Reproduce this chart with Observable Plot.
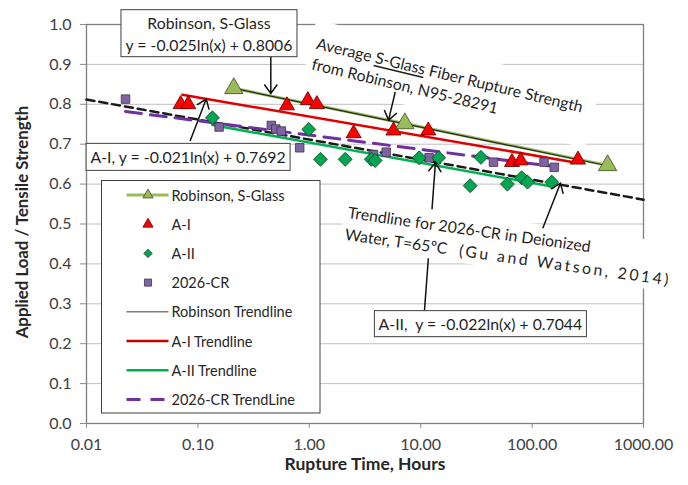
<!DOCTYPE html>
<html><head><meta charset="utf-8">
<script src="https://cdn.jsdelivr.net/npm/d3@7"></script>
<script src="https://cdn.jsdelivr.net/npm/@observablehq/plot@0.6"></script>
<style>
body{margin:0;background:#fff;font-family:Lato,sans-serif;}
svg{display:block;}
</style></head><body><div id="chart"></div>
<script>
// ---------- data ----------
const xTicks = [0.01, 0.1, 1, 10, 100, 1000];
const xTickLabels = ["0.01", "0.10", "1.00", "10.00", "100.00", "1000.00"];
const yTicks = [0, 0.1, 0.2, 0.3, 0.4, 0.5, 0.6, 0.7, 0.8, 0.9, 1.0];
const yTickLabels = ["0.0", "0.1", "0.2", "0.3", "0.4", "0.5", "0.6", "0.7", "0.8", "0.9", "1.0"];

const robinsonX = [0.21, 7.2, 476];
const robinsonY = [0.84, 0.752, 0.647];
const aIX = [0.07, 0.082, 0.63, 0.97, 1.17, 2.5, 5.7, 11.7, 66, 79, 258];
const aIY = [0.80, 0.80, 0.797, 0.81, 0.80, 0.727, 0.734, 0.734, 0.655, 0.659, 0.661];
const aIIX = [0.135, 0.99, 1.26, 2.1, 3.6, 3.9, 9.7, 14.5, 27.8, 34.7, 60, 80.5, 91, 150];
const aIIY = [0.766, 0.737, 0.662, 0.662, 0.662, 0.659, 0.666, 0.666, 0.596, 0.667, 0.60, 0.616, 0.605, 0.605];
const crX = [0.0224, 0.155, 0.456, 0.50, 0.56, 0.82, 3.77, 4.9, 11.9, 45, 128, 158];
const crY = [0.813, 0.743, 0.747, 0.738, 0.733, 0.691, 0.674, 0.680, 0.666, 0.655, 0.655, 0.642];

// trendline end points (straight lines on the log axis)
const robinsonTrendX = [0.21, 476];
const robinsonTrendY = [0.840, 0.646];
const aITrendX = [0.0725, 258];
const aITrendY = [0.824, 0.653];
const aIITrendX = [0.135, 150];
const aIITrendY = [0.748, 0.594];
const crTrendX = [0.0224, 158];
const crTrendY = [0.782, 0.644];
const guTrendX = [0.01, 1000];
const guTrendY = [0.812, 0.561];

const legendLabels = ["Robinson, S-Glass", "A-I", "A-II", "2026-CR", "Robinson Trendline", "A-I Trendline", "A-II Trendline", "2026-CR TrendLine"];

// ---------- build tables ----------
const zip = (xs, ys) => xs.map((x, i) => ({x, y: ys[i]}));
const robinson = zip(robinsonX, robinsonY);
const aI = zip(aIX, aIY);
const aII = zip(aIIX, aIIY);
const cr = zip(crX, crY);
const robinsonTrend = zip(robinsonTrendX, robinsonTrendY);
const aITrend = zip(aITrendX, aITrendY);
const aIITrend = zip(aIITrendX, aIITrendY);
const crTrend = zip(crTrendX, crTrendY);
const guTrend = zip(guTrendX, guTrendY);

const fx = d => xTickLabels[xTicks.findIndex(t => Math.abs(Math.log10(t) - Math.log10(d)) < 1e-6)];
const fy = d => yTickLabels[yTicks.findIndex(t => Math.abs(t - d) < 1e-6)];

const C = {
  olive: "#9bbb59", red: "#ff0000", redLine: "#e00000", green: "#00a651", greenLine: "#00b050",
  purple: "#8064a2", purpleLine: "#7030a0"
};

const chart = Plot.plot({
  width: 688, height: 485,
  marginLeft: 86, marginRight: 45, marginTop: 24, marginBottom: 62,
  style: {fontFamily: "Lato, sans-serif", background: "white", overflow: "visible"},
  x: {type: "log", domain: [0.01, 1000]},
  y: {domain: [0, 1]},
  marks: [
    Plot.gridY(yTicks.slice(1, -1), {stroke: "#c0c0c0", strokeOpacity: 1, strokeWidth: 1}),
    Plot.frame({stroke: "#7f7f7f", strokeWidth: 1.3}),
    Plot.axisX(xTicks, {tickFormat: fx, tickSize: 5, tickPadding: 10, stroke: "#8c8c8c", fill: "#404040", fontSize: 16, label: null}),
    Plot.axisY(yTicks, {tickFormat: fy, tickSize: 6, tickPadding: 9, stroke: "#8c8c8c", fill: "#404040", fontSize: 16, label: null}),
    Plot.line(robinson, {x: "x", y: "y", stroke: C.olive, strokeWidth: 3}),
    Plot.line(robinsonTrend, {x: "x", y: "y", stroke: "#262626", strokeWidth: 1.2}),
    Plot.line(aITrend, {x: "x", y: "y", stroke: C.redLine, strokeWidth: 2.5}),
    Plot.line(aIITrend, {x: "x", y: "y", stroke: C.greenLine, strokeWidth: 2.5}),
    Plot.line(guTrend, {x: "x", y: "y", stroke: "#1a1a1a", strokeWidth: 2.5, strokeDasharray: "8,5"}),
    Plot.line(crTrend, {x: "x", y: "y", stroke: C.purpleLine, strokeWidth: 3, strokeDasharray: "16,9"}),
    Plot.dot(cr, {x: "x", y: "y", symbol: "square", r: 4.8, fill: C.purple, stroke: "#3f3151", strokeWidth: 0.8}),
    Plot.dot(aII, {x: "x", y: "y", symbol: "diamond2", r: 6.3, fill: C.green, stroke: "#173d22", strokeWidth: 0.8}),
    Plot.dot(aI, {x: "x", y: "y", symbol: "triangle", r: 5.6, fill: C.red, stroke: "#5c0000", strokeWidth: 0.8}),
    Plot.dot(robinson, {x: "x", y: "y", symbol: "triangle", r: 6.8, fill: C.olive, stroke: "#3c4a22", strokeWidth: 0.8}),
    Plot.text(["Rupture Time, Hours"], {text: d => d, frameAnchor: "bottom", dy: 46, fontWeight: "bold", fontSize: 17.5, fill: "#262626"}),
    Plot.text(["Applied Load / Tensile Strength"], {text: d => d, frameAnchor: "left", textAnchor: "middle", dx: -64, dy: -2, rotate: -90, fontWeight: "bold", fontSize: 16.8, fill: "#262626"})
  ]
});
document.getElementById("chart").appendChild(chart);

// ---------- annotations ----------
const xsc = chart.scale("x"), ysc = chart.scale("y");
const sx = v => xsc.apply(v), sy = v => ysc.apply(v);
const svg = d3.select(chart);
const ann = svg.append("g").attr("font-family", "Lato, sans-serif").attr("font-size", 15.8)
  .attr("fill", "#1f1f1f").attr("text-anchor", "start");

function arrow(a) {
  const x1 = sx(a.x1), y1 = sy(a.y1), x2 = sx(a.x2), y2 = sy(a.y2);
  const ang = Math.atan2(y2 - y1, x2 - x1), L = 11, h = 0.63;
  const p = `M${x1},${y1}L${x2},${y2}M${x2 - L * Math.cos(ang - h)},${y2 - L * Math.sin(ang - h)}L${x2},${y2}L${x2 - L * Math.cos(ang + h)},${y2 - L * Math.sin(ang + h)}`;
  ann.append("path").attr("d", p).attr("fill", "none").attr("stroke", "#111").attr("stroke-width", 1.5).attr("stroke-linejoin", "miter");
}
function box(b) {
  const cx = sx(b.x), cy = sy(b.y);
  ann.append("rect").attr("x", cx - b.w / 2).attr("y", cy - b.h / 2).attr("width", b.w).attr("height", b.h)
    .attr("fill", "white").attr("stroke", "#404040").attr("stroke-width", 1);
  const n = b.lines.length;
  b.lines.forEach((t, i) => {
    ann.append("text").attr("x", cx).attr("y", cy + (i - (n - 1) / 2) * 22).attr("text-anchor", "middle")
      .attr("dominant-baseline", "central").text(t);
  });
}
function rotText(r) {
  const g = ann.append("g").attr("transform", `translate(${sx(r.x)},${sy(r.y)}) rotate(${r.rotate})`);
  const inner = g.append("g");
  r.lines.forEach((parts, i) => {
    const t = inner.append("text").attr("x", 0).attr("y", i * r.gap).attr("text-anchor", "start")
      .attr("dominant-baseline", "central").attr("xml:space", "preserve").style("white-space", "pre");
    parts.forEach(p => {
      const ts = t.append("tspan").text(p.t);
      if (p.u) ts.attr("text-decoration", "underline");
      if (p.ls) ts.attr("letter-spacing", p.ls);
    });
  });
  const bb = inner.node().getBBox();
  g.insert("rect", ":first-child").attr("x", bb.x - r.pad[3]).attr("y", bb.y - r.pad[0])
    .attr("width", bb.width + r.pad[1] + r.pad[3]).attr("height", bb.height + r.pad[0] + r.pad[2]).attr("fill", "white");
}

// A-II pointer runs behind the Gu & Watson text box
arrow({x1: 10.9, y1: 0.278, x2: 13.7, y2: 0.652});
rotText({x: 2.26, y: 0.531, rotate: 8, gap: 22, pad: [4, 8, 4, 4], lines: [
  [{t: "Trendline for 2026-CR in Deionized"}],
  [{t: "Water, T=65ºC   "}, {t: "(Gu and Watson, 2014)", ls: 2.6}]
]});
rotText({x: 1.19, y: 0.955, rotate: 13.5, gap: 21, pad: [12, 12, 10, 6], lines: [
  [{t: "Average "}, {t: "S-Glass", u: true}, {t: " Fiber Rupture Strength"}],
  [{t: "from Robinson, N95-28291"}]
]});
box({x: 0.127, y: 0.977, w: 176, h: 47, lines: ["Robinson, S-Glass", "y = -0.025ln(x) + 0.8006"]});
box({x: 0.0825, y: 0.667, w: 204, h: 27, lines: ["A-I, y = -0.021ln(x) + 0.7692"]});
box({x: 34.7, y: 0.249, w: 212, h: 26, lines: ["A-II,  y = -0.022ln(x) + 0.7044"]});
arrow({x1: 0.456, y1: 0.918, x2: 0.456, y2: 0.826});
arrow({x1: 5.97, y1: 0.830, x2: 5.2, y2: 0.759});
arrow({x1: 0.086, y1: 0.707, x2: 0.12, y2: 0.812});
arrow({x1: 126, y1: 0.488, x2: 181.5, y2: 0.601});

// ---------- legend ----------
const lg = svg.append("g").attr("font-family", "Lato, sans-serif").attr("font-size", 14.5)
  .attr("fill", "#262626").attr("text-anchor", "start");
lg.append("rect").attr("x", 101.5).attr("y", 180.5).attr("width", 218.5).attr("height", 232.5)
  .attr("fill", "white").attr("stroke", "#404040").attr("stroke-width", 1);
const items = [
  {line: C.olive, lw: 3, sym: d3.symbolTriangle, size: 45, fill: C.olive, stroke: "#3c4a22"},
  {sym: d3.symbolTriangle, size: 45, fill: C.red, stroke: "#5c0000"},
  {sym: d3.symbolDiamond2, size: 45, fill: C.green, stroke: "#173d22"},
  {sym: d3.symbolSquare, size: 50, fill: C.purple, stroke: "#3f3151"},
  {line: "#7f7f7f", lw: 1.5},
  {line: "#c00000", lw: 2.5},
  {line: C.greenLine, lw: 2.5},
  {line: C.purpleLine, lw: 3, dash: "14,10"}
];
items.forEach((it, i) => {
  const y = 195 + i * 29.2;
  if (it.line) lg.append("line").attr("x1", 126.5).attr("x2", 168.5).attr("y1", y).attr("y2", y)
    .attr("stroke", it.line).attr("stroke-width", it.lw).attr("stroke-dasharray", it.dash || null);
  if (it.sym) lg.append("path").attr("d", d3.symbol(it.sym, it.size)()).attr("transform", `translate(148,${y})`)
    .attr("fill", it.fill).attr("stroke", it.stroke).attr("stroke-width", 0.8);
  lg.append("text").attr("x", 171.5).attr("y", y).attr("text-anchor", "start").attr("dominant-baseline", "central").text(legendLabels[i]);
});
</script>
</body></html>
